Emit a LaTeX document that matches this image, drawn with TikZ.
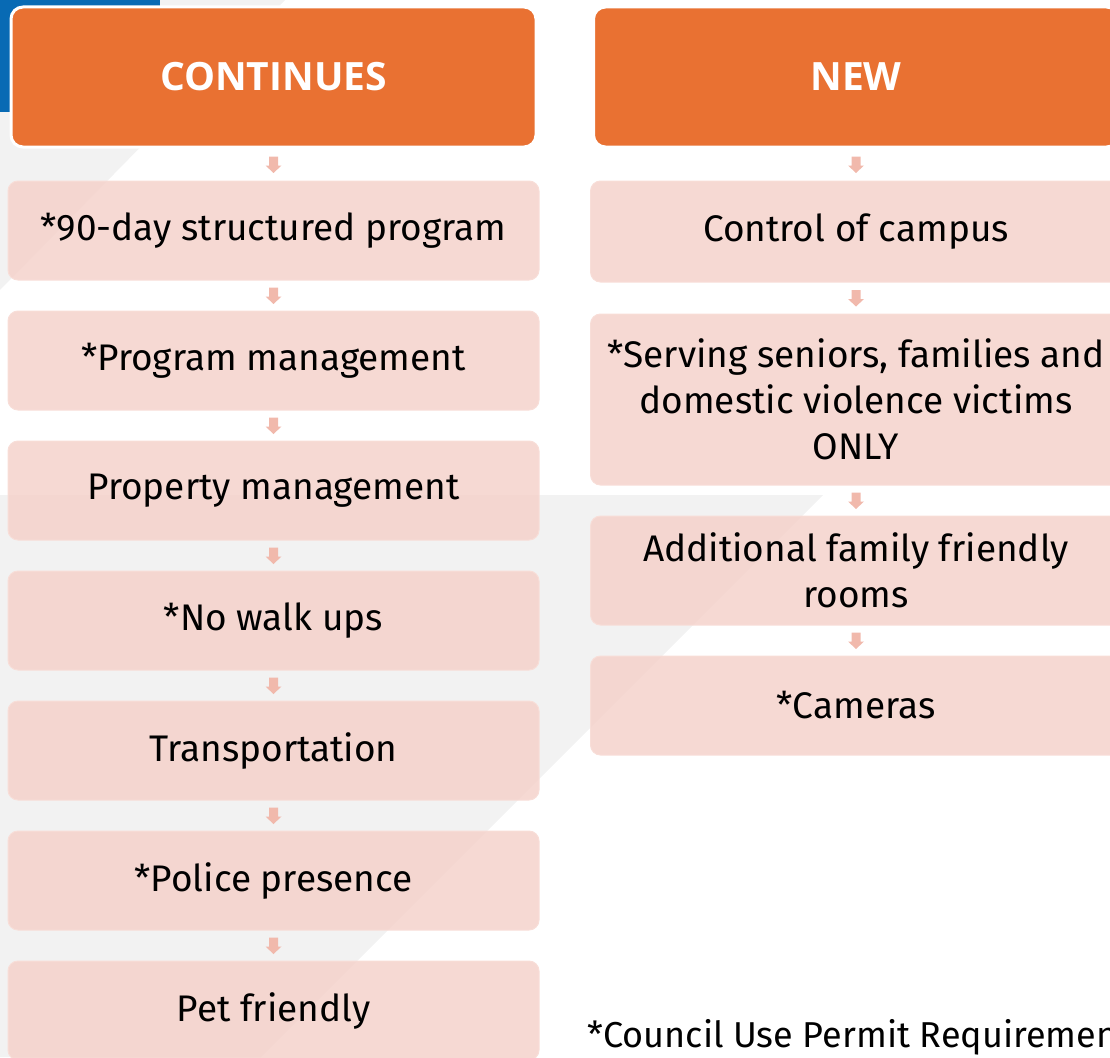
\documentclass[tikz,border=0pt]{standalone}
\usepackage{fontspec}
\setmainfont{Fira Sans}
\newfontfamily\headfont{Open Sans}
\definecolor{orangeh}{HTML}{E97132}
\definecolor{pinkbox}{RGB}{245,210,203}
\definecolor{pinkedge}{RGB}{248,222,216}
\definecolor{arrowc}{RGB}{241,185,172}
\definecolor{bggray}{RGB}{242,242,242}
\definecolor{bluecorner}{RGB}{8,106,180}
\begin{document}
\begin{tikzpicture}[x=1pt,y=-1pt,
  head/.style={rectangle, rounded corners=12pt, fill=orangeh, draw=white, line width=3pt,
    minimum width=525pt, minimum height=140pt, inner sep=0pt,
    text=white, font=\headfont\bfseries\fontsize{39}{46}\selectfont},
  item/.style={rectangle, rounded corners=10pt, fill=pinkbox, fill opacity=0.85,
    text opacity=1, draw=pinkedge, line width=1pt,
    minimum width=531pt, inner sep=0pt, align=center, text=black,
    font=\fontsize{37}{46}\selectfont},
  note/.style={anchor=base west, text=black, font=\fontsize{36}{44}\selectfont}
]
\newcommand\blockarrow[2]{%
  \path (#1) -- (#2) coordinate[midway] (tmpmid);
  \fill[arrowc, shift={(tmpmid)}] (-4.5,-8) -- (4.5,-8) -- (4.5,1) -- (8,1) -- (0,8.5) -- (-8,1) -- (-4.5,1) -- cycle;}
\useasboundingbox (0,0) rectangle (1110,1057);
\begin{scope}
\clip (0,0) rectangle (1110,1057);
% background shapes
\fill[bggray] (0,0) -- (285,0) -- (0,290) -- cycle;
\fill[bggray] (0,495) -- (823,495) -- (261,1057) -- (0,1057) -- cycle;
\fill[bluecorner] (0,0) rectangle (160,112);

% headers
\node[head] (h1) at (273.5,77) {CONTINUES};
\node[head] (h2) at (856,77) {NEW};

% left column
\node[item, minimum height=99pt] (l1) at (273.5,230.5) {*90-day structured program};
\node[item, minimum height=99pt] (l2) at (273.5,360.5) {*Program management};
\node[item, minimum height=99pt] (l3) at (273.5,490.5) {Property management};
\node[item, minimum height=99pt] (l4) at (273.5,620.5) {*No walk ups};
\node[item, minimum height=99pt] (l5) at (273.5,750.5) {Transportation};
\node[item, minimum height=99pt] (l6) at (273.5,880.5) {*Police presence};
\node[item, minimum height=99pt] (l7) at (273.5,1010.5) {Pet friendly};

% right column
\node[item, minimum height=101pt] (r1) at (856,231.5) {Control of campus};
\node[item, minimum height=171pt] (r2) at (856,399.5) {*Serving seniors, families and\\domestic violence victims\\ONLY};
\node[item, minimum height=109pt] (r3) at (856,570.5) {Additional family friendly\\rooms};
\node[item, minimum height=99pt] (r4) at (856,705.5) {*Cameras};

% connectors
\blockarrow{h1}{l1}
\blockarrow{l1}{l2}
\blockarrow{l2}{l3}
\blockarrow{l3}{l4}
\blockarrow{l4}{l5}
\blockarrow{l5}{l6}
\blockarrow{l6}{l7}
\blockarrow{h2}{r1}
\blockarrow{r1}{r2}
\blockarrow{r2}{r3}
\blockarrow{r3}{r4}

% footnote
\node[note] (fn) at (584,1047) {*Council Use Permit Requirements};
\end{scope}
\end{tikzpicture}
\end{document}
